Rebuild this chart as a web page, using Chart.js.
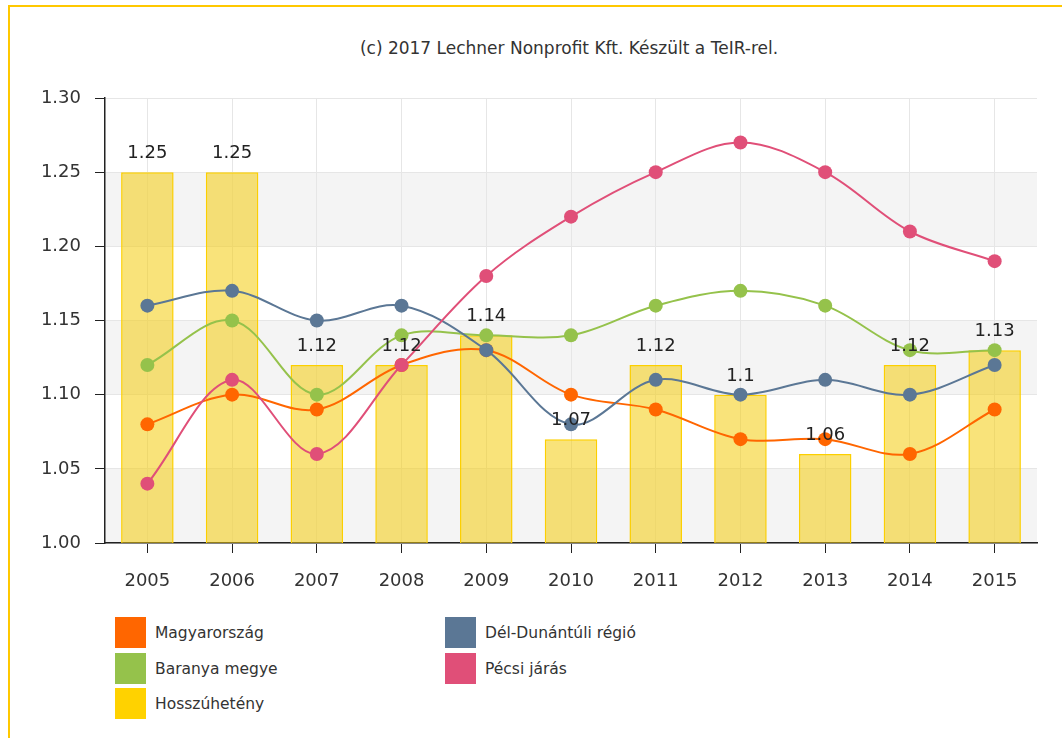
<!DOCTYPE html>
<html>
<head>
<meta charset="utf-8">
<script src="https://cdn.jsdelivr.net/npm/chart.js@4.4.1/dist/chart.umd.min.js"></script>
<style>
  html, body { margin: 0; background: #fff; overflow: hidden; width: 1062px; height: 738px;
               font-family: "DejaVu Sans", Verdana, sans-serif; }
  .edge { position: absolute; background: #ffc800; }
  #edgeTop { left: 8px; top: 5px; width: 1054px; height: 2px; }
  #edgeLeft { left: 8px; top: 5px; width: 2px; height: 733px; }
  #title { position: absolute; top: 38px; left: 569px; transform: translateX(-50%);
           font-size: 17px; color: #333; white-space: nowrap; }
  #chart { position: absolute; left: 0; top: 0; }
  .leg { position: absolute; display: flex; align-items: center; font-size: 15.5px; color: #333; }
  .leg span.box { width: 31px; height: 31px; margin-right: 9px; display: inline-block; }
</style>
</head>
<body>
<div class="edge" id="edgeTop"></div>
<div class="edge" id="edgeLeft"></div>
<div id="title">(c) 2017 Lechner Nonprofit Kft. Készült a TeIR-rel.</div>
<canvas id="chart" width="1062" height="600"></canvas>
<div id="legend"></div>
<script>
const years = ['2005', '2006', '2007', '2008', '2009', '2010', '2011', '2012', '2013', '2014', '2015'];
const yTicks = [1.00, 1.05, 1.10, 1.15, 1.20, 1.25, 1.30];

const magyarorszag = [1.08, 1.10, 1.09, 1.12, 1.13, 1.10, 1.09, 1.07, 1.07, 1.06, 1.09];
const baranya      = [1.12, 1.15, 1.10, 1.14, 1.14, 1.14, 1.16, 1.17, 1.16, 1.13, 1.13];
const delDunantul  = [1.16, 1.17, 1.15, 1.16, 1.13, 1.08, 1.11, 1.10, 1.11, 1.10, 1.12];
const pecsi        = [1.04, 1.11, 1.06, 1.12, 1.18, 1.22, 1.25, 1.27, 1.25, 1.21, 1.19];
const hosszuheteny = [1.25, 1.25, 1.12, 1.12, 1.14, 1.07, 1.12, 1.1, 1.06, 1.12, 1.13];

const colors = {
    magyar: '#ff6600',
    baranya: '#95c24b',
    hossz: '#ffd200',
    del: '#5b7795',
    pecsi: '#e04f78'
};

// grey stripes between every other tick pair
const bandsPlugin = {
    id: 'bands',
    beforeDraw(chart) {
        const { ctx, chartArea, scales: { y } } = chart;
        ctx.save();
        ctx.fillStyle = '#f4f4f4';
        for (let i = 0; i < yTicks.length - 1; i += 2) {
            const top = y.getPixelForValue(yTicks[i + 1]);
            const bottom = y.getPixelForValue(yTicks[i]);
            ctx.fillRect(chartArea.left, top, chartArea.right - chartArea.left, bottom - top);
        }
        ctx.restore();
    }
};

// value labels above the bars
const barLabels = {
    id: 'barLabels',
    afterDatasetsDraw(chart) {
        const ctx = chart.ctx;
        const meta = chart.getDatasetMeta(0);
        ctx.save();
        ctx.font = '18px "DejaVu Sans"';
        ctx.fillStyle = '#222';
        ctx.textAlign = 'center';
        ctx.textBaseline = 'alphabetic';
        meta.data.forEach((bar, i) => {
            ctx.fillText(String(hosszuheteny[i]), bar.x, bar.y - 14);
        });
        ctx.restore();
    }
};

function lineSet(label, data, color, order) {
    return {
        type: 'line',
        label: label,
        data: data,
        borderColor: color,
        backgroundColor: color,
        pointBackgroundColor: color,
        pointBorderWidth: 0,
        pointRadius: 7,
        borderWidth: 2,
        tension: 0.35,
        order: order
    };
}

const ctx = document.getElementById('chart').getContext('2d');
const chart = new Chart(ctx, {
    type: 'bar',
    data: {
        labels: years,
        datasets: [
            {
                label: 'Hosszúhetény',
                data: hosszuheteny,
                backgroundColor: 'rgba(244,204,12,0.55)',
                borderColor: '#fccf00',
                borderWidth: 1.5,
                barPercentage: 0.62,
                categoryPercentage: 1.0,
                order: 10
            },
            lineSet('Magyarország', magyarorszag, colors.magyar, 3),
            lineSet('Baranya megye', baranya, colors.baranya, 4),
            lineSet('Dél-Dunántúli régió', delDunantul, colors.del, 2),
            lineSet('Pécsi járás', pecsi, colors.pecsi, 1)
        ]
    },
    options: {
        responsive: false,
        animation: false,
        layout: { padding: { left: 0, right: 25, top: 98, bottom: 0 } },
        scales: {
            x: {
                offset: true,
                grid: { offset: false, color: '#e6e6e6', tickColor: '#222', tickLength: 10 },
                border: { color: '#222', width: 1.5 },
                ticks: { color: '#333', font: { family: 'DejaVu Sans', size: 18 }, padding: 18 },
                afterFit: s => { s.height = 57; }
            },
            y: {
                min: 1.0,
                max: 1.3,
                afterBuildTicks: s => { s.ticks = yTicks.map(v => ({ value: v })); },
                grid: { color: '#e6e6e6', tickColor: '#222', tickLength: 10 },
                border: { color: '#222', width: 1.5 },
                ticks: {
                    color: '#333',
                    font: { family: 'DejaVu Sans', size: 18 },
                    padding: 14,
                    callback: v => Number(v).toFixed(2)
                },
                afterFit: s => { s.width = 105; }
            }
        },
        plugins: {
            legend: { display: false },
            tooltip: { enabled: false }
        }
    },
    plugins: [bandsPlugin, barLabels]
});

// legend in two columns, as in the original
const legendItems = [
    ['Magyarország', colors.magyar, 115, 617],
    ['Baranya megye', colors.baranya, 115, 653],
    ['Hosszúhetény', colors.hossz, 115, 688],
    ['Dél-Dunántúli régió', colors.del, 445, 617],
    ['Pécsi járás', colors.pecsi, 445, 653]
];
const legend = document.getElementById('legend');
legendItems.forEach(([text, color, x, y]) => {
    const el = document.createElement('div');
    el.className = 'leg';
    el.style.left = x + 'px';
    el.style.top = y + 'px';
    el.innerHTML = '<span class="box" style="background:' + color + '"></span><span>' + text + '</span>';
    legend.appendChild(el);
});
</script>
</body>
</html>
